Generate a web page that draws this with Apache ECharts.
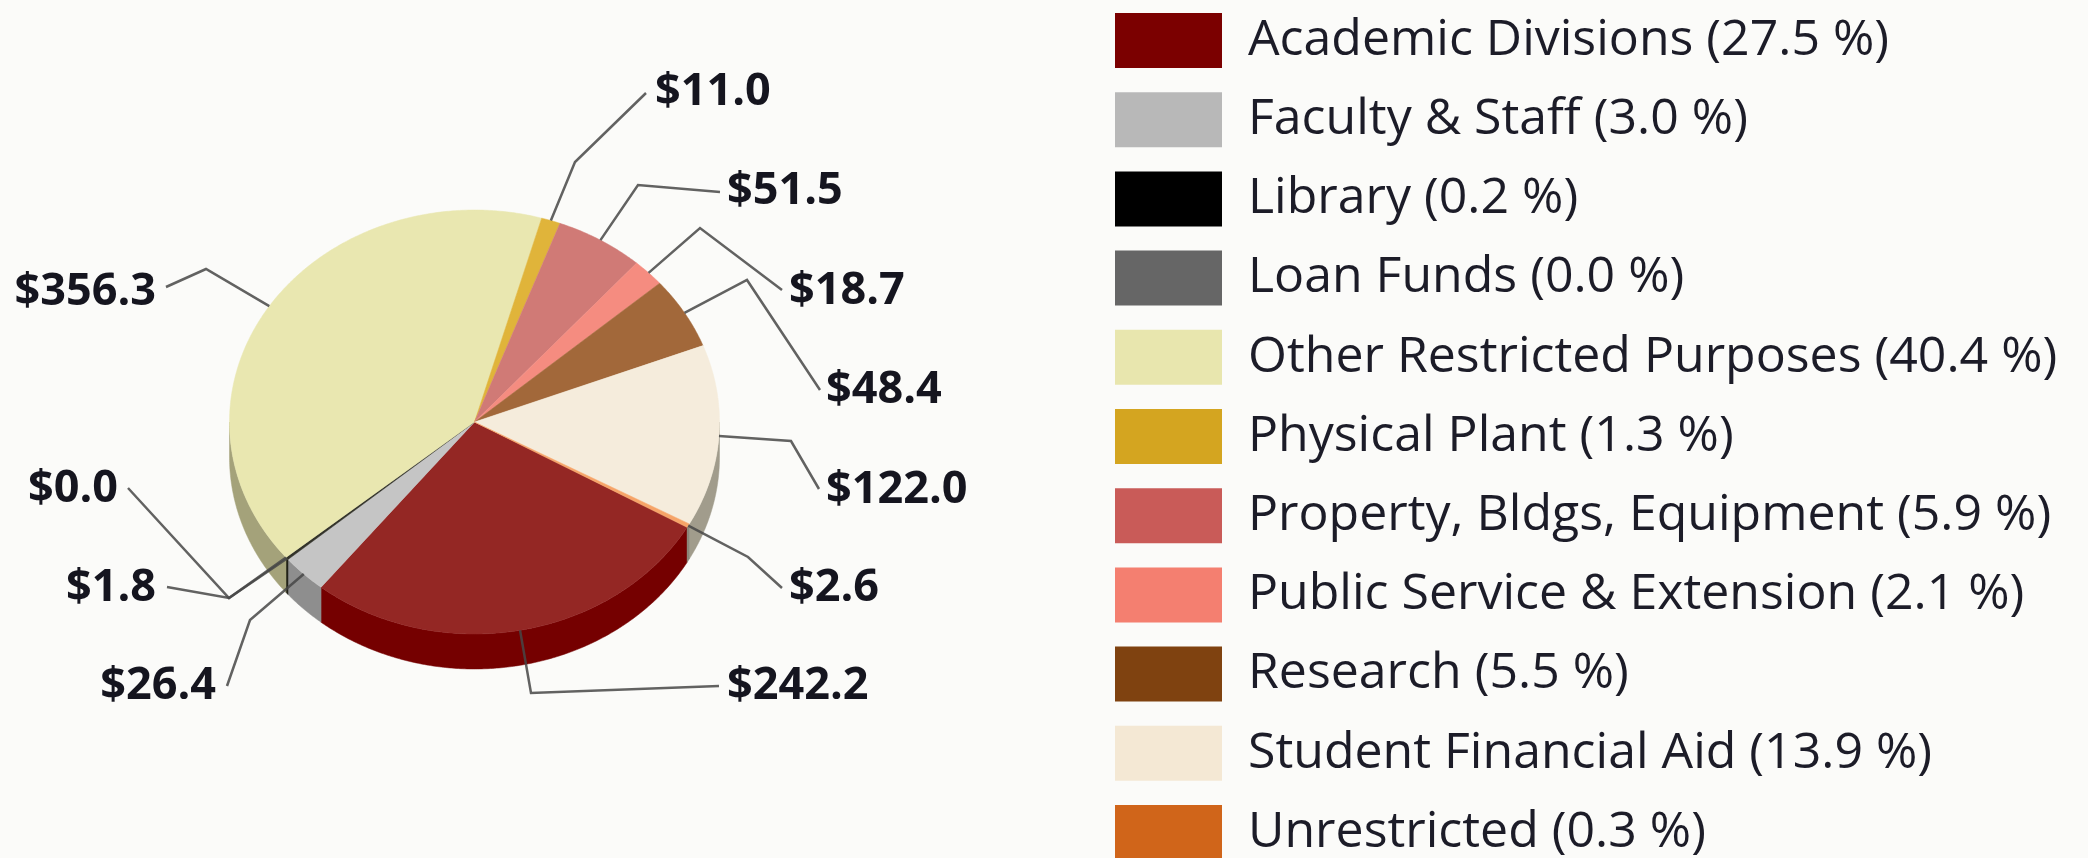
<!DOCTYPE html>
<html><head><meta charset="utf-8">
<style>html,body{margin:0;padding:0;background:#FBFBF9}#c{width:2088px;height:858px;filter:blur(0.6px)}</style>
<script src="https://cdn.jsdelivr.net/npm/echarts@6/dist/echarts.min.js"></script>
</head><body><div id="c"></div>
<script>
// ---- data ----
const categories = ['Academic Divisions','Faculty & Staff','Library','Loan Funds','Other Restricted Purposes','Physical Plant','Property, Bldgs, Equipment','Public Service & Extension','Research','Student Financial Aid','Unrestricted'];
const values = [242.2,26.4,1.8,0.0,356.3,11.0,51.5,18.7,48.4,122.0,2.6];
const percents = ['27.5','3.0','0.2','0.0','40.4','1.3','5.9','2.1','5.5','13.9','0.3'];
// ---- colours ----
const swatchColors = ['#7B0000','#B8B8B8','#000000','#666666','#E8E6AE','#D4A520','#C95B58','#F47F70','#7F4210','#F4E8D4','#D0651A'];
const topColors = ['#942724','#C5C5C5','#33332A','#777777','#E9E7B0','#E0B43A','#D07A76','#F58C80','#A2683A','#F5ECDC','#F6A468'];
const sideColors = ['#750000','#8E8E8E','#222218','#555555','#A4A27A','#9B7A1E','#8F4F4B','#A9645A','#6A3A12','#A19C8C','#8A8578'];
// ---- layout ----
const pie = {cx:474.5, cy:422, rx:245, ry:212, depth:35, start:119.8};
const elbows = [[531,693],[250,620],[229,598],[229,598],[206,269],[575,162],[638,185],[700,228],[747,280],[791,441],[748,557]];
const lineEnds = [[719,686],[227,686],[167,587],[128,488],[166,287],[646,93],[720,192],[782,290],[820,390],[819,489],[782,588]];
const labelPos = [[727,686],[216,686],[156,588],[118,489],[156,292],[655,92],[727,191],[789,291],[826,390],[826,490],[789,588]];
const labelAlign = ['left','right','right','right','right','left','left','left','left','left','left'];

const total = values.reduce((a,b)=>a+b,0);
let acc = 0;
const ranges = values.map(v=>{const a=acc; acc+=v; return [pie.start+a/total*360, pie.start+acc/total*360];});
const rim = (deg,dy=0)=>{const t=deg*Math.PI/180; return [pie.cx+pie.rx*Math.sin(t), pie.cy-pie.ry*Math.cos(t)+dy];};
const arc = (a,b,dy=0)=>{const n=Math.max(2,Math.ceil(Math.abs(b-a)/0.5)); const p=[]; for(let k=0;k<=n;k++)p.push(rim(a+(b-a)*k/n,dy)); return p;};

function sliceItem(i){
  const [a,b]=ranges[i]; const kids=[];
  // visible front wall: 90..270 deg clockwise from top
  for(const off of [0,360]){
    const s=Math.max(a,90+off), e=Math.min(b,270+off);
    if(e>s){
      kids.push({type:'polygon',shape:{points:arc(s,e).concat(arc(e,s,pie.depth))},
        style:{fill:sideColors[i],stroke:sideColors[i],lineWidth:0.5}});
    }
  }
  if(b>a){
    kids.push({type:'polygon',z2:5,shape:{points:[[pie.cx,pie.cy]].concat(arc(a,b))},
      style:{fill:topColors[i],stroke:topColors[i],lineWidth:0.5}});
  }
  return {type:'group',children:kids};
}
const sliceSeries = categories.map((name,i)=>({
  type:'custom',name,coordinateSystem:'none',silent:true,animation:false,clip:false,z:2,
  itemStyle:{color:swatchColors[i]},data:[[values[i]]],
  renderItem:()=>sliceItem(i)
}));
const leaderSeries = {
  type:'custom',name:'leaders',coordinateSystem:'none',silent:true,animation:false,clip:false,z:3,
  data:values.map((v,i)=>[i,v]),
  renderItem:(p,api)=>{
    const i=api.value(0), v=api.value(1);
    const [a,b]=ranges[i];
    return {type:'group',children:[
      {type:'polyline',z2:10,shape:{points:[rim((a+b)/2),elbows[i],lineEnds[i]]},
        style:{fill:null,stroke:'rgba(70,70,70,0.85)',lineWidth:2.5}},
      {type:'text',z2:11,style:{text:'$'+v.toFixed(1),x:labelPos[i][0],y:labelPos[i][1],
        align:labelAlign[i],verticalAlign:'middle',fill:'#15151F',
        font:'bold 45px "Open Sans"'}}
    ]};
  }
};
const chart = echarts.init(document.getElementById('c'),null,{renderer:'canvas'});
chart.setOption({
  backgroundColor:'#FBFBF9',animation:false,tooltip:{show:false},
  legend:{
    data:categories,orient:'vertical',left:1110,top:8,height:1000,
    icon:'rect',itemWidth:107,itemHeight:55,itemGap:24.2,selectedMode:false,
    formatter:n=>n+' ('+percents[categories.indexOf(n)]+' %)',
    textStyle:{fontFamily:'"Open Sans"',fontSize:50,color:'#1C1C28',padding:[0,0,0,21]}
  },
  series:sliceSeries.concat([leaderSeries])
});
</script></body></html>
